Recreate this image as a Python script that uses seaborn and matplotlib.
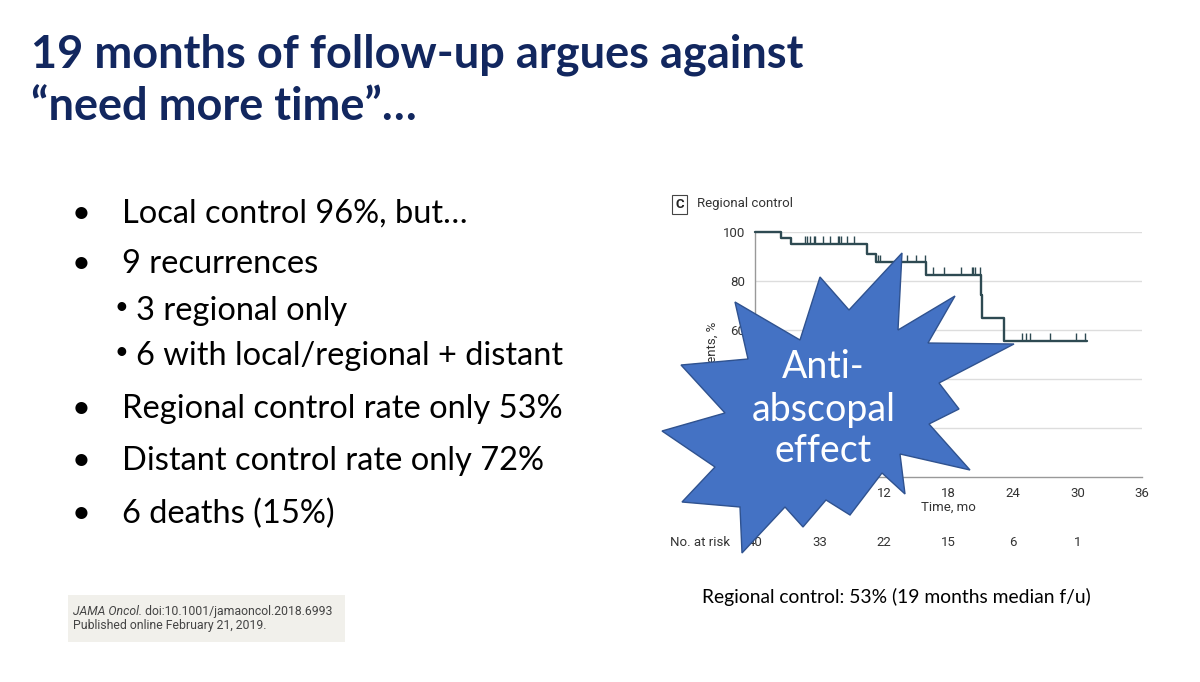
import matplotlib
matplotlib.use("Agg")
import matplotlib.pyplot as plt
from matplotlib.patches import Polygon, Rectangle
import numpy as np
import seaborn as sns

W, H = 1200, 682

# --- data ---
event_times = [0, 2.42, 3.32, 10.39, 11.26, 15.9, 21.02, 21.15, 23.19]
surv_pct = [100, 97.5, 95.0, 91.0, 87.5, 82.3, 74.1, 65.0, 55.6]
last_followup = 30.85
censor_times = [4.65, 4.87, 5.14, 5.46, 5.61, 6.33, 7.0, 7.69, 7.84, 7.97, 8.53, 9.18,
                11.44, 11.66, 14.1, 14.95, 15.79,
                16.55, 17.58, 19.16, 20.16, 20.3, 20.47, 20.93,
                24.81, 25.18, 25.61, 27.41, 29.83, 30.7]
x_ticks = [0, 6, 12, 18, 24, 30, 36]
y_ticks = [0, 20, 40, 60, 80, 100]
risk_times = [0, 6, 12, 18, 24, 30]
at_risk = [40, 33, 22, 15, 6, 1]

title_lines = ["19 months of follow-up argues against", "\u201cneed more time\u201d\u2026"]
bullets = [
    (0, "Local control 96%, but\u2026"),
    (0, "9 recurrences"),
    (1, "3 regional only"),
    (1, "6 with local/regional + distant"),
    (0, "Regional control rate only 53%"),
    (0, "Distant control rate only 72%"),
    (0, "6 deaths (15%)"),
]
bullet_baselines = [223, 273, 320, 365, 418, 470, 523]
star_text = ["Anti-", "abscopal", "effect"]
caption = "Regional control: 53% (19 months median f/u)"

# starburst outline in slide pixels
star_px = [(902, 253), (898, 330), (955, 296), (928, 343), (1014, 344), (939, 383),
           (959, 409), (929, 424), (970, 470), (900, 454), (905, 494), (882, 473),
           (850, 515), (826, 500), (803, 527), (785, 507), (742, 553), (740, 507),
           (682, 502), (715, 467), (662, 431), (725, 413), (681, 365), (748, 359),
           (735, 302), (800, 340), (820, 277), (849, 310)]


def fx(x):
    return x / W


def fy(y):
    return 1 - y / H


sns.set_theme(style="white")
plt.rcParams["font.family"] = ["Lato", "DejaVu Sans"]

fig = plt.figure(figsize=(W / 100, H / 100), dpi=100)
fig.patch.set_facecolor("white")

navy = "#12275F"
for i, line in enumerate(title_lines):
    fig.text(fx(31), fy([67, 120][i]), line, fontsize=32.5, fontweight="bold",
             color=navy, va="baseline", ha="left")

body_size = 23.5
for (level, text), base in zip(bullets, bullet_baselines):
    if level == 0:
        fig.text(fx(81.5), fy(base), "\u2022", fontsize=body_size, ha="center",
                 va="baseline", color="black")
        fig.text(fx(121.5), fy(base), text, fontsize=body_size, ha="left",
                 va="baseline", color="black")
    else:
        fig.text(fx(121), fy(base - 6), "\u2022", fontsize=17, ha="center",
                 va="baseline", color="black")
        fig.text(fx(136.5), fy(base), text, fontsize=body_size, ha="left",
                 va="baseline", color="black")

# citation box
fig.add_artist(Rectangle((fx(68), fy(642)), fx(345) - fx(68), fy(595) - fy(642),
                         transform=fig.transFigure, facecolor="#F1F0EB",
                         edgecolor="none", zorder=1))
small = ["Roboto", "DejaVu Sans"]
cite_size = 8.8
t1 = fig.text(fx(73), fy(618), "JAMA Oncol.", fontsize=cite_size, style="italic",
              family=small, color="#444444", va="bottom", zorder=2)
fig.add_artist(plt.Annotation(" doi:10.1001/jamaoncol.2018.6993", xy=(1, 0),
                              xycoords=t1, va="bottom", ha="left", fontsize=cite_size,
                              family=small, color="#444444", zorder=2))
fig.text(fx(73), fy(632), "Published online February 21, 2019.", fontsize=cite_size,
         family=small, color="#444444", va="bottom", zorder=2)

# --- Kaplan-Meier panel ---
ax = fig.add_axes([fx(755), fy(477), (1142 - 755) / W, (477 - 231.7) / H])
ax.set_facecolor("none")

chart_size = 9.5
step_x = event_times + [last_followup]
step_y = surv_pct + [surv_pct[-1]]
curve_color = "#2E4A52"
sns.lineplot(x=step_x, y=step_y, drawstyle="steps-post", estimator=None, sort=False,
             color=curve_color, linewidth=1.7, ax=ax, clip_on=False, zorder=3)
idx = np.searchsorted(event_times, censor_times, side="right") - 1
censor_levels = np.array(surv_pct)[idx]
ax.vlines(censor_times, censor_levels, censor_levels + 3.2, color=curve_color,
          linewidth=1.0, zorder=3, clip_on=False)

ax.set_xlim(0, 36)
ax.set_ylim(0, 100)
ax.set_xticks(x_ticks)
ax.set_yticks(y_ticks)
ax.set_xticklabels([str(t) for t in x_ticks], family=small, fontsize=chart_size,
                   color="#333333")
ax.set_yticklabels([str(t) for t in y_ticks], family=small, fontsize=chart_size,
                   color="#333333")
for y in y_ticks[1:]:
    ax.axhline(y, color="#DDDDDD", linewidth=1.0, zorder=1)
for side in ["top", "right"]:
    ax.spines[side].set_visible(False)
for side in ["left", "bottom"]:
    ax.spines[side].set_color("#999999")
    ax.spines[side].set_linewidth(1.0)
ax.tick_params(axis="both", direction="out", length=4, width=1, color="#999999", pad=3)
ax.set_xlabel("Time, mo", family=small, fontsize=chart_size, color="#333333", labelpad=1)

fig.text(fx(712), fy(354), "Patients, %", rotation=90, ha="center", va="center",
         family=small, fontsize=chart_size, color="#333333", zorder=1)

fig.text(fx(670), fy(542), "No. at risk", family=small, fontsize=chart_size,
         color="#333333", ha="left", va="center")
for t, n in zip(risk_times, at_risk):
    ax.text(t, (477 - 542) / (477 - 231.7), str(n), transform=ax.get_xaxis_transform(),
            family=small, fontsize=chart_size, color="#333333", ha="center", va="center")

fig.text(fx(679.5), fy(204.5), "C", family=small, fontsize=chart_size, fontweight="bold",
         color="#222222", ha="center", va="center",
         bbox=dict(boxstyle="square,pad=0.22", facecolor="white", edgecolor="#444444",
                   linewidth=0.8))
fig.text(fx(697), fy(204), "Regional control", family=small, fontsize=chart_size,
         color="#333333", ha="left", va="center")

# --- starburst callout ---
star = Polygon([(fx(x), fy(y)) for x, y in star_px], closed=True,
               transform=fig.transFigure, facecolor="#4472C4", edgecolor="#2F528F",
               linewidth=1.0, zorder=5)
fig.add_artist(star)
for line, y in zip(star_text, [367, 410, 451]):
    fig.text(fx(823.5), fy(y), line, fontsize=27, color="white", ha="center",
             va="center", zorder=6)

fig.text(fx(702), fy(603), caption, fontsize=13.9, color="black", ha="left",
         va="baseline")

fig.savefig("out.png", dpi=100)
